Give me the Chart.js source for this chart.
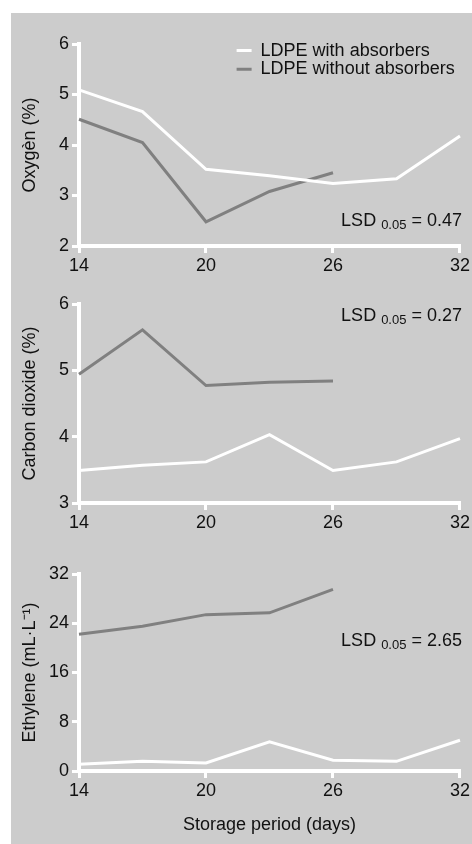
<!DOCTYPE html>
<html><head><meta charset="utf-8">
<script src="https://cdn.jsdelivr.net/npm/chart.js@4.4.1/dist/chart.umd.min.js"></script>
<style>
html,body{margin:0;padding:0;background:#fff;width:472px;height:844px;overflow:hidden;position:relative;font-family:"Liberation Sans",Arial,sans-serif;}
#bg{position:absolute;left:11px;top:13px;width:461px;height:831px;background:#cccccc;}
canvas{position:absolute;left:0;}
.lsd{position:absolute;right:10px;font-size:18px;line-height:18px;color:#111;white-space:nowrap;}
.lsd sub{font-size:13px;line-height:0;vertical-align:-3px;}
</style></head>
<body>
<div id="bg"></div>
<canvas id="c1" width="472" height="280" style="top:0px"></canvas>
<canvas id="c2" width="472" height="270" style="top:280px"></canvas>
<canvas id="c3" width="472" height="294" style="top:550px"></canvas>
<div class="lsd" style="top:211px">LSD <sub>0.05</sub> = 0.47</div>
<div class="lsd" style="top:306px">LSD <sub>0.05</sub> = 0.27</div>
<div class="lsd" style="top:631px">LSD <sub>0.05</sub> = 2.65</div>
<script>
// ---- data ----
const days = [14, 17, 20, 23, 26, 29, 32];
const dayTicks = [14, 20, 26, 32];
const seriesNames = ['LDPE with absorbers', 'LDPE without absorbers'];

const oxygenWith = [5.09, 4.66, 3.52, 3.39, 3.24, 3.33, 4.18];
const oxygenWithout = [4.51, 4.05, 2.48, 3.08, 3.45];
const oxygenTicks = [2, 3, 4, 5, 6];

const co2With = [3.49, 3.57, 3.62, 4.03, 3.49, 3.62, 3.97];
const co2Without = [4.94, 5.61, 4.77, 4.82, 4.84];
const co2Ticks = [3, 4, 5, 6];

const ethyleneWith = [1.1, 1.6, 1.3, 4.75, 1.75, 1.57, 5.0];
const ethyleneWithout = [22.2, 23.5, 25.4, 25.7, 29.5];
const ethyleneTicks = [0, 8, 16, 24, 32];

// ---- styling ----
Chart.defaults.devicePixelRatio = 1;
const FONT = {family: '"Liberation Sans", Arial, sans-serif', size: 18};
const TXT = '#111';
const WITH_COLOR = '#ffffff';
const WITHOUT_COLOR = '#808080';

function pts(vals) { return vals.map((v, i) => ({x: days[i], y: v})); }

function axisCommon() {
  return {
    grid: {display: true, drawOnChartArea: false, drawTicks: true, tickLength: 7, color: '#fff', lineWidth: 3},
    border: {display: true, color: '#fff', width: 4}
  };
}

function xScale(h, title) {
  return Object.assign(axisCommon(), {
    type: 'linear', min: days[0], max: days[days.length - 1],
    afterBuildTicks: s => { s.ticks = dayTicks.map(v => ({value: v})); },
    afterFit: s => { s.height = h; },
    ticks: {font: FONT, color: TXT, padding: 2, maxRotation: 0, autoSkip: false},
    title: title ? {display: true, text: title, font: FONT, color: TXT, padding: {top: 0, bottom: 8}} : {display: false}
  });
}

function yScale(tickArr, title) {
  return Object.assign(axisCommon(), {
    type: 'linear', min: tickArr[0], max: tickArr[tickArr.length - 1],
    afterBuildTicks: s => { s.ticks = tickArr.map(v => ({value: v})); },
    afterFit: s => { s.width = 79; },
    ticks: {font: FONT, color: TXT, padding: 3},
    title: {display: true, text: title, font: FONT, color: TXT, padding: {top: 19, bottom: 0}}
  });
}

const legendMover = {
  id: 'legendMover',
  afterLayout(chart) {
    const l = chart.legend;
    if (!l || !l.options.display) return;
    const w = l.width, h = l.height;
    l.left = 236; l.top = 41; l.right = 236 + w + 30; l.bottom = 41 + h + 40;
  }
};

function makeChart(id, withVals, withoutVals, tickArr, yTitle, padTop, xH, xTitle, showLegend) {
  return new Chart(document.getElementById(id), {
    type: 'line',
    data: {
      datasets: [
        {label: seriesNames[0], data: pts(withVals), borderColor: WITH_COLOR, backgroundColor: WITH_COLOR,
         borderWidth: 3, pointRadius: 0, tension: 0, clip: false, fill: false},
        {label: seriesNames[1], data: pts(withoutVals), borderColor: WITHOUT_COLOR, backgroundColor: WITHOUT_COLOR,
         borderWidth: 3, pointRadius: 0, tension: 0, clip: false, fill: false}
      ]
    },
    options: {
      responsive: false, animation: false, devicePixelRatio: 1,
      layout: {padding: {top: padTop, right: 11, left: 0, bottom: 0}},
      scales: {x: xScale(xH, xTitle), y: yScale(tickArr, yTitle)},
      plugins: {
        tooltip: {enabled: false},
        legend: {
          display: showLegend, position: 'chartArea', align: 'start',
          labels: {usePointStyle: true, pointStyle: 'line', pointStyleWidth: 15, font: FONT, color: TXT, padding: 0.6}
        }
      }
    },
    plugins: [legendMover]
  });
}

makeChart('c1', oxygenWith, oxygenWithout, oxygenTicks, 'Oxygèn (%)', 44, 34, null, true);
makeChart('c2', co2With, co2Without, co2Ticks, 'Carbon dioxide (%)', 24, 47, null, false);
makeChart('c3', ethyleneWith, ethyleneWithout, ethyleneTicks, 'Ethylene (mL·L⁻¹)', 24, 73, 'Storage period (days)', false);
</script>
</body></html>
